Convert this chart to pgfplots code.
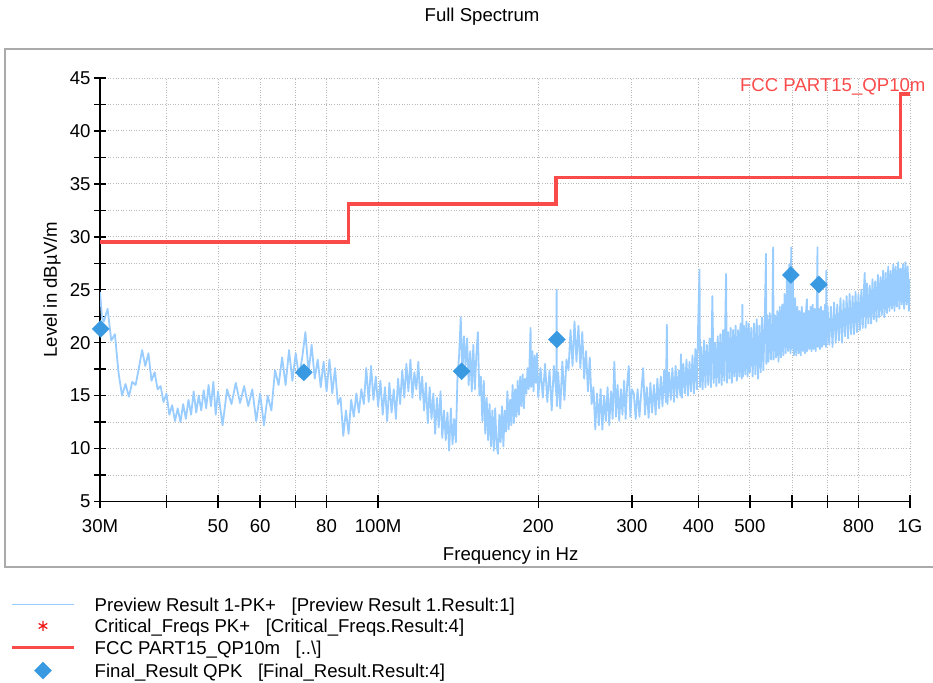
\documentclass[border=0pt]{standalone}
\usepackage{fontspec}
\setmainfont{Liberation Sans}
\usepackage{pgfplots}
\usepackage{pgfplotstable}
\pgfplotsset{compat=1.18}

\definecolor{preview}{RGB}{153,204,255}
\definecolor{limitred}{RGB}{250,75,75}
\definecolor{finalblue}{RGB}{58,154,225}
\definecolor{critred}{RGB}{240,20,20}
\definecolor{gridgray}{RGB}{185,185,185}
\definecolor{framegray}{RGB}{170,170,170}

\newcommand\chartfont{\fontsize{18.6}{22}\selectfont}

% Preview Result 1 (PK+ detector), frequency in MHz, level in dBuV/m
\pgfplotstableread{
f L
30.0 24.8
30.25 22.4
30.5 22.0
31.0 23.2
31.5 20.2
32.0 20.8
32.5 17.2
33.0 15.0
33.5 16.1
34.0 14.9
34.5 16.3
35.0 16.0
35.5 17.6
36.0 19.3
36.5 17.8
37.0 19.0
37.5 16.4
38.0 17.2
38.5 15.6
39.0 15.9
39.5 14.4
40.0 15.2
40.5 13.2
41.0 14.1
41.5 12.6
42.0 13.8
42.5 12.5
43.0 14.2
43.5 12.8
44.0 14.6
44.5 13.2
45.0 15.4
45.5 13.4
46.0 15.0
46.5 13.6
47.0 15.5
47.5 13.8
48.0 16.0
48.5 14.0
49.0 16.3
49.5 13.2
50.0 15.4
51 12.2
52 15.6
53 14.2
54 16.2
55 14.3
56 15.9
57 14.0
58 15.6
59 12.6
60 15.2
61 12.2
62 15.0
63 13.6
64 17.4
65 16.0
66 18.6
67 16.0
68 19.3
69 16.4
70 19.0
71 16.8
72 18.6
73 21.0
74 17.2
75 19.8
76 16.6
77 18.4
78 15.8
79 18.2
80 15.4
81 18.4
82 15.2
83 17.6
84 14.2
85 14.8
86 11.2
87 13.6
88 11.4
89 14.6
90 13.0
91 15.2
92 13.4
93 15.6
94 14.2
95 17.6
96 14.4
97 17.8
98 14.6
99 16.8
100 14.0
101 16.4
102 13.2
103 15.8
104 12.6
105 16.2
106 13.4
107 15.6
108 12.8
109 16.6
110 14.2
111 17.4
112 14.8
113 18.0
114 15.4
115 18.4
116 14.8
117 17.2
118 15.6
119 18.2
120 14.6
121 16.8
122 13.6
123 16.2
124 12.4
125 15.8
126 12.8
127 15.2
128 11.4
129 14.8
130 12.0
131 15.4
132 11.0
133 13.6
134 10.8
135 13.4
136 9.8
137 13.8
138 10.4
139 12.8
140 10.6
141 16.8
142 18.8
143 22.4
144 17.0
145 20.6
146 17.8
147 20.4
148 16.0
149 19.2
150 15.4
151 19.8
152 15.6
153 18.8
154 21.0
155 15.0
156 16.8
157 12.6
158 16.4
159 11.4
160 14.8
161 10.8
162 14.2
163 10.2
164 13.6
165 9.8
166 13.8
167 10.4
168 9.5
169 13.2
170 10.6
171 14.0
172 10.2
173 13.6
174 11.6
175 15.4
176 11.8
177 14.6
178 12.2
179 16.0
180 12.4
181 15.6
182 13.0
183 16.4
184 13.2
185 16.8
186 14.0
187 17.0
188 13.8
189 16.6
190 15.2
191 17.6
192 15.6
193 19.6
193.5 21.4
194 15.8
195 19.2
196 15.4
197 18.8
198 16.2
199 19.0
200 14.8
202 17.6
204 14.8
206 18.0
208 14.4
210 17.4
212 13.6
214 17.8
216.4 15.0
216.6 25.0
216.8 14.0
218 17.2
220 13.8
222 18.2
224 14.6
226 18.4
228 17.4
230 21.2
232 17.8
234 22.0
236 18.2
238 21.6
240 17.6
242 21.0
244 16.6
246 19.2
248 15.4
250 18.6
252 14.2
254 15.8
256 11.8
258 15.2
260 12.2
262 15.6
264 11.8
266 15.0
268 12.6
270 15.8
272 12.2
274 15.4
276 12.8
278 18.2
280 13.0
282 16.0
284 12.6
286 15.6
288 13.2
290 16.4
292 12.8
294 16.2
296 17.8
298 13.0
300 15.6
302.5 15.2
305 12.8
307.5 15.6
310 13.0
312.5 15.4
315 17.6
317.5 13.2
320 15.8
322.5 12.9
325 16.2
327.5 13.4
330 16.0
332.5 13.2
335 16.6
337.5 13.8
340 16.8
342.5 14.0
345 17.4
347.5 14.4
349 21.7
350 14.2
352.5 17.2
355 14.6
357.5 17.6
360 14.4
362.5 17.8
365 14.8
367.5 17.4
370 15.0
371 18.9
372.5 14.8
375 18.0
377.5 15.2
380 18.4
382.5 15.0
385 18.2
387.5 15.4
390 18.8
392.5 15.2
395 19.4
397.5 15.6
400 22.6
402 26.9
403 15.8
405 19.6
407.5 15.6
410 20.2
412.5 15.8
415 19.8
417.5 16.0
420 20.4
422.5 15.8
425 24.4
427.5 16.2
430 20.0
432.5 15.9
435 20.6
437.5 16.2
440 20.8
442.5 16.0
445 21.2
447.5 16.4
451 26.5
452.5 16.2
455 21.0
457.5 16.6
460 21.4
462.5 16.2
465 21.2
467.5 16.8
470 21.6
472.5 16.4
475 21.2
477.5 16.8
480 21.8
482.5 16.6
484 23.6
485 16.8
487.5 21.6
490 17.0
492.5 22.0
495 16.8
497.5 21.8
500 17.2
503 21.4
506 16.8
509 21.8
512 17.0
515 22.2
518 16.6
521 21.6
524 17.2
527 22.4
530 17.4
533 21.8
536 28.4
537 18.0
539 22.6
542 18.2
545 22.8
548 18.4
551 22.2
553 29.0
554 18.4
557 22.6
560 18.6
563 23.0
566 18.2
569 23.4
572 18.6
575 23.6
578 18.8
581 24.6
584 19.0
587 26.2
590 19.2
593 27.4
596 19.0
598 29.0
599 19.4
602 27.0
605 18.8
608 24.2
611 18.8
614 23.4
617 19.0
620 23.0
623 18.8
626 23.4
629 19.2
632 22.8
635 19.0
638 23.2
640 24.1
641 19.2
644 23.0
647 19.4
650 23.4
653 19.2
656 23.6
659 19.4
662 23.2
665 19.2
668 23.8
670 29.0
671 19.6
674 23.2
677 19.4
680 23.4
683 19.6
686 23.0
689 19.8
692 23.6
695 19.6
696 26.8
697 19.8
700 23.4
705 19.8
710 23.4
715 19.6
720 23.8
725 20.0
730 23.6
735 20.2
740 24.2
745 20.0
750 24.0
755 20.6
760 24.4
765 20.4
770 24.6
775 20.8
780 24.4
785 20.8
790 24.8
795 21.0
800 24.6
805 21.2
810 25.0
815 21.4
820 25.6
822 26.6
825 21.4
830 25.6
835 21.8
840 25.4
845 21.8
850 26.0
855 22.2
860 25.8
865 22.0
870 26.4
875 22.4
880 26.2
885 22.6
890 26.8
895 22.4
900 26.6
905 22.8
910 27.2
915 23.0
920 26.8
925 23.2
930 27.4
935 23.0
940 27.2
945 23.4
950 27.6
955 23.2
960 27.0
965 23.6
970 27.4
975 23.2
980 27.6
985 23.6
990 27.2
995 23.0
1000 26.0
}\previewdata

% FCC Part 15 quasi-peak limit at 10 m
\pgfplotstableread{
f L
30 29.5
88 29.5
88 33.1
216 33.1
216 35.6
960 35.6
960 43.5
1000 43.5
}\fcclimit

% Final QPK measurements
\pgfplotstableread{
f L
30.1 21.3
72.5 17.2
143.6 17.3
216.8 20.3
597 26.4
673.8 25.5
}\finalqpk

\begin{document}
\begin{tikzpicture}
\useasboundingbox (0pt,0pt) rectangle (933pt,682pt);
\draw[framegray, line width=1.5pt] (5pt,115pt) rectangle (950pt,633pt);
\begin{axis}[
  at={(100pt,180.5pt)}, anchor=south west,
  scale only axis, width=810pt, height=423.5pt,
  xmode=log, xmin=30, xmax=1000, ymin=5, ymax=45,
  axis lines*=left,
  axis line style={-, black, line width=1.4pt},
  xtick={30,40,50,60,70,80,100,200,300,400,500,600,700,800,1000},
  xticklabels={30M,{},50,60,{},80,100M,200,300,400,500,{},{},800,1G},
  ytick={5,7.5,10,12.5,15,17.5,20,22.5,25,27.5,30,32.5,35,37.5,40,42.5,45},
  yticklabels={5,{},10,{},15,{},20,{},25,{},30,{},35,{},40,{},45},
  xminorticks=false, yminorticks=false,
  tick align=center, major tick length=12pt,
  tick style={black, line width=1.4pt},
  grid=major,
  grid style={gridgray, line width=0.9pt, dash pattern=on 1pt off 1.6pt},
  tick label style={font=\chartfont},
  xticklabel style={yshift=-8pt},
  xlabel={Frequency in Hz},
  ylabel={Level in dBµV/m},
  xlabel style={at={(axis description cs:0.507,-0.129)}, anchor=center, font=\chartfont},
  ylabel style={at={(axis description cs:-0.0593,0.5)}, anchor=center, font=\chartfont},
  title={Full Spectrum},
  title style={at={(axis description cs:0.4716,1.1299)}, anchor=center, font=\chartfont},
  legend style={at={(axis description cs:-0.1111,-0.2267)}, anchor=north west,
    draw=none, fill=none, inner sep=0pt, font=\chartfont, row sep=4pt,
    nodes={inner sep=0pt, text height=13.5pt, text depth=4pt},
    /tikz/every odd column/.append style={column sep=19pt}},
  legend cell align=left,
  legline/.style={legend image code/.code={%
    \draw[mark repeat=2,mark phase=2,##1] plot coordinates {(-3pt,2pt)(28pt,2pt)(59pt,2pt)};}},
  legline,
]
\addplot[preview, line width=1.8pt, line join=round] table[x=f,y=L]{\previewdata};
\addlegendentry{Preview Result 1-PK+~~~[Preview Result 1.Result:1]}
\addlegendimage{only marks, mark=asterisk, critred, mark size=5pt, line width=1.2pt, legline}
\addlegendentry{Critical\_Freqs PK+~~~[Critical\_Freqs.Result:4]}
\addplot[limitred, line width=3.5pt] table[x=f,y=L]{\fcclimit};
\addlegendentry{FCC PART15\_QP10m~~~[..\textbackslash]}
\addplot[only marks, mark=square*, mark size=6pt,
  mark options={rotate=45, fill=finalblue, draw=finalblue}, legline]
  table[x=f,y=L]{\finalqpk};
\addlegendentry{Final\_Result QPK~~~[Final\_Result.Result:4]}
\end{axis}
\node[anchor=east, text=limitred, font=\chartfont] at (929pt,595pt) {FCC PART15\_QP10m};
\end{tikzpicture}
\end{document}
